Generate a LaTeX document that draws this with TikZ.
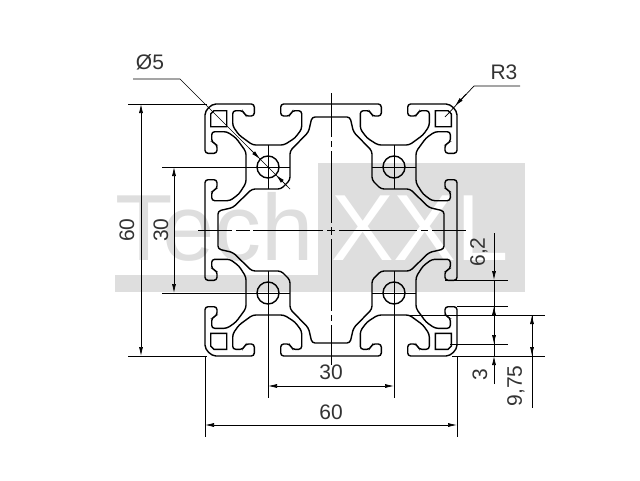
\documentclass[tikz,border=0pt]{standalone}
\usepackage{fontspec}
\setmainfont{Liberation Sans}
\usetikzlibrary{arrows.meta}
\definecolor{WMGrey}{HTML}{DEDEDE}
\definecolor{DimText}{HTML}{333333}
\tikzset{
    contour/.style = {draw, black, line width=1.4pt, rounded corners=3pt},
    thinline/.style = {draw, black, line width=.7pt},
    dim/.style = {thinline, {Latex[length=9pt,width=4pt]}-{Latex[length=9pt,width=4pt]}},
    dimend/.style = {thinline, -{Latex[length=9pt,width=4pt]}},
    dimtext/.style = {DimText, font=\fontsize{21}{21}\selectfont, inner sep=0pt},
    wmtext/.style = {font=\fontsize{94}{94}\selectfont, inner sep=0pt, anchor=base west}
}
\begin{document}
\begin{tikzpicture}[x=1pt,y=-1pt]
    \useasboundingbox (0,0) rectangle (640,480);
    % watermark
    \fill[WMGrey] (115,275) rectangle (318,292);
    \fill[WMGrey] (318,163) rectangle (525,292);
    \node[wmtext,WMGrey] (wmtech) at (115,260) {Tech};
    \node[wmtext,white] (wmxxl) at (331,260) {XXL};
    % profile, one quadrant mirrored four times
    \foreach \sx/\sy in {1/1,-1/1,1/-1,-1/-1}{
        \begin{scope}[shift={(331,230)},xscale=\sx,yscale=\sy]
            \draw[contour] (0,-126) -- (-50.3,-126) -- (-50.3,-114) -- (-41,-114) -- (-39,-119.3)
                -- (-29.3,-119.3) -- (-29.3,-101) -- (-36,-92) -- (-47,-85) -- (-78.3,-85) -- (-92,-95) -- (-98.3,-104)
                -- (-98.3,-119.3) -- (-87.7,-119.3) -- (-85.7,-114) -- (-76.7,-114) -- (-76.7,-126)
                -- (-112,-126) .. controls (-120,-126) and (-126,-120) .. (-126,-112)
                -- (-126,-76.7) -- (-114,-76.7) -- (-114,-85.7) -- (-119.3,-87.7) -- (-119.3,-98.3)
                -- (-104,-98.3) -- (-95,-92) -- (-85,-78.3) -- (-85,-47) -- (-92,-36) -- (-101,-29.3) -- (-119.3,-29.3)
                -- (-119.3,-39) -- (-114,-41) -- (-114,-50.3) -- (-126,-50.3) -- (-126,0);
            \draw[contour] (0,-113) -- (-19,-113) -- (-22.5,-98) -- (-41,-79) -- (-41,-50)
                -- (-50,-41) -- (-79,-41) -- (-98,-22.5) -- (-113,-19) -- (-113,0);
            \draw[contour,rounded corners=0pt] (-117,-119.3) -- (-104.3,-119.3) -- (-104.3,-103.3)
                -- (-120.3,-103.3) -- (-120.3,-116) -- cycle;
            \draw[black,line width=1.4pt] (-63,-63) circle (11);
            \draw[thinline] (-85,-63) -- (-41,-63);
            \draw[thinline] (-63,-85) -- (-63,-41);
        \end{scope}
    }
    % centre lines
    \foreach \a/\b in {198/232,236/250,253/323,327/335,339/417,421/428,432/466}{
        \draw[thinline] (\a,230) -- (\b,230);
    }
    \foreach \a/\b in {93/137,141/147,151/223,227/235,239/311,315/321,325/365}{
        \draw[thinline] (331,\a) -- (331,\b);
    }
    % extension lines
    \foreach \y in {104,356}{
        \draw[thinline] (128,\y) -- (207,\y);
    }
    \foreach \y in {167,293}{
        \draw[thinline] (162,\y) -- (246,\y);
    }
    \foreach \x in {268,394}{
        \draw[thinline] (\x,315) -- (\x,398);
    }
    \foreach \x in {205,457}{
        \draw[thinline] (\x,356) -- (\x,437);
    }
    \draw[thinline] (445,280) -- (508,280);
    \draw[thinline] (457,306) -- (508,306);
    \draw[thinline] (409,315) -- (545,315);
    \draw[thinline] (450,344) -- (508,344);
    \draw[thinline] (452,356) -- (545,356);
    % dimensions
    \draw[dim] (141,104) -- (141,356);
    \draw[dim] (174,167) -- (174,293);
    \draw[dim] (205,425) -- (457,425);
    \draw[dim] (268,386) -- (394,386);
    \draw[dim] (532,356) -- (532,315);
    \draw[thinline] (532,315) -- (532,408);
    \draw[dimend] (494,233) -- (494,280);
    \draw[thinline] (494,280) -- (494,306);
    \draw[dimend] (494,325) -- (494,306);
    \draw[thinline] (494,306) -- (494,344);
    \draw[dimend] (494,325) -- (494,344);
    \draw[thinline] (494,344) -- (494,356);
    \draw[dimend] (494,384) -- (494,356);
    \node[dimtext,rotate=90] (h60) at (127,230) {60};
    \node[dimtext,rotate=90] (h30) at (161,230) {30};
    \node[dimtext] (w30) at (331,372) {30};
    \node[dimtext] (w60) at (331,412) {60};
    \node[dimtext,rotate=90] (slot) at (479,252) {6,2};
    \node[dimtext,rotate=90] (wall) at (480,375) {3};
    \node[dimtext,rotate=90] (lip) at (516,386) {9,75};
    % leaders
    \node[dimtext] (dia) at (150,62) {Ø5};
    \node[dimtext] (rad) at (504,72) {R3};
    \coordinate (diaa) at (180,79);
    \coordinate (radb) at (474,86);
    \draw[thinline] (133,79) -- (diaa) -- (290,189);
    \draw[dimend] (249,148) -- (260,159);
    \draw[dimend] (287,186) -- (276,175);
    \draw[thinline] (520,86) -- (radb) -- (445,117);
    \draw[dimend] (466,94) -- (455,106);
\end{tikzpicture}
\end{document}
